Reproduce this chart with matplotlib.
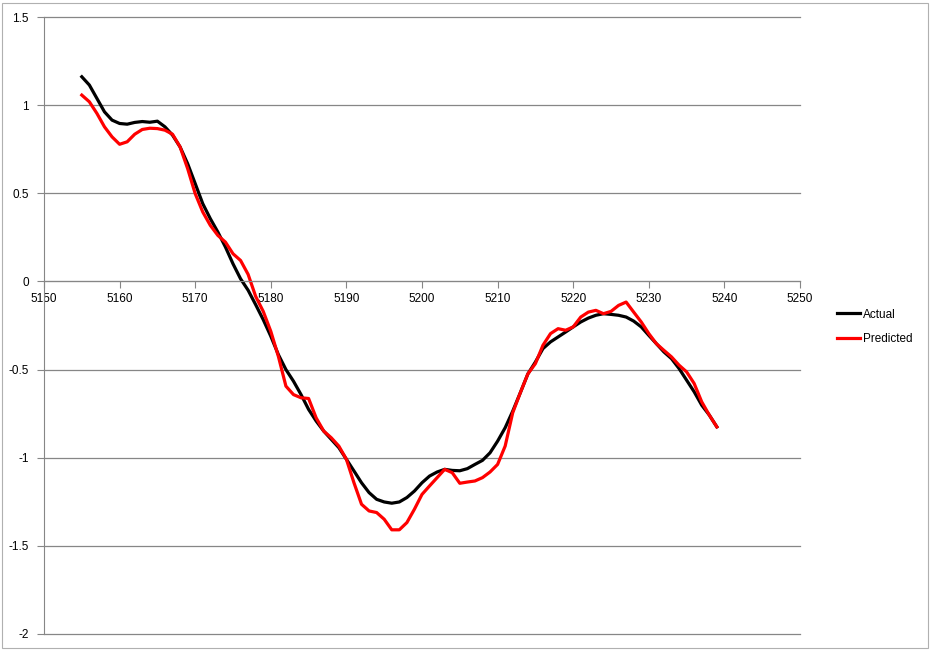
import matplotlib
matplotlib.use("Agg")
import matplotlib.pyplot as plt
from matplotlib.lines import Line2D
from matplotlib.patches import Rectangle

x_start = 5155
actual = [1.161, 1.114, 1.038, 0.962, 0.915, 0.896, 0.892, 0.902, 0.907, 0.903,
          0.909, 0.877, 0.830, 0.763, 0.668, 0.555, 0.441, 0.356, 0.280, 0.195,
          0.100, 0.015, -0.050, -0.132, -0.217, -0.311, -0.415, -0.500, -0.566, -0.642,
          -0.726, -0.792, -0.849, -0.896, -0.943, -1.009, -1.075, -1.142, -1.198, -1.236,
          -1.251, -1.258, -1.251, -1.226, -1.189, -1.142, -1.104, -1.081, -1.066, -1.072,
          -1.074, -1.062, -1.038, -1.015, -0.972, -0.906, -0.830, -0.736, -0.632, -0.525,
          -0.457, -0.381, -0.343, -0.315, -0.287, -0.258, -0.230, -0.208, -0.192, -0.183,
          -0.187, -0.192, -0.202, -0.225, -0.258, -0.306, -0.353, -0.400, -0.438, -0.494,
          -0.560, -0.626, -0.702, -0.758, -0.825]
predicted = [1.057, 1.019, 0.953, 0.877, 0.820, 0.778, 0.792, 0.835, 0.862, 0.869,
             0.867, 0.858, 0.835, 0.763, 0.640, 0.498, 0.394, 0.318, 0.261, 0.223,
             0.157, 0.119, 0.040, -0.085, -0.170, -0.283, -0.425, -0.594, -0.642, -0.660,
             -0.664, -0.774, -0.849, -0.887, -0.934, -1.009, -1.142, -1.264, -1.302, -1.311,
             -1.349, -1.409, -1.409, -1.368, -1.292, -1.208, -1.160, -1.113, -1.066, -1.085,
             -1.145, -1.138, -1.132, -1.113, -1.081, -1.038, -0.934, -0.745, -0.632, -0.525,
             -0.466, -0.362, -0.296, -0.268, -0.277, -0.258, -0.202, -0.174, -0.164, -0.183,
             -0.170, -0.136, -0.117, -0.174, -0.230, -0.296, -0.353, -0.391, -0.428, -0.475,
             -0.513, -0.579, -0.683, -0.758, -0.825]
xs = list(range(x_start, x_start + len(actual)))
x_ticks = [5150, 5160, 5170, 5180, 5190, 5200, 5210, 5220, 5230, 5240, 5250]
y_ticks = [-2, -1.5, -1, -0.5, 0, 0.5, 1, 1.5]
y_labels = ["-2", "-1.5", "-1", "-0.5", "0", "0.5", "1", "1.5"]

plt.rcParams['font.family'] = ['Liberation Sans', 'DejaVu Sans']
W, H = 931, 651
fig = plt.figure(figsize=(W / 100, H / 100), dpi=100)
ax = fig.add_axes([44 / W, (H - 634) / H, (800 - 44) / W, (634 - 17) / H])

gray = '#868686'
ax.plot(xs, actual, color='black', lw=2.3, label='Actual', solid_joinstyle='round')
ax.plot(xs, predicted, color='#FF0000', lw=2.3, label='Predicted', solid_joinstyle='round')

ax.set_xlim(5150, 5250)
ax.set_ylim(-2, 1.5)
ax.set_xticks(x_ticks)
ax.set_yticks(y_ticks)
ax.set_yticklabels(y_labels)
ax.yaxis.grid(True, color=gray, lw=0.9)
for gl in ax.get_ygridlines():
    gl.set_clip_on(False)
ax.set_axisbelow(True)
for s in ['top', 'right']:
    ax.spines[s].set_visible(False)
ax.spines['bottom'].set_position(('data', 0))
ax.spines['bottom'].set_color(gray)
ax.spines['left'].set_color(gray)
ax.tick_params(axis='x', direction='out', length=5, color=gray, labelsize=8.5, pad=3.5)
ax.tick_params(axis='y', direction='out', length=5, color=gray, labelsize=8.5, pad=6)

handles = [Line2D([0], [0], color='black', lw=2.3), Line2D([0], [0], color='#FF0000', lw=2.3)]
fig.legend(handles, ['Actual', 'Predicted'], loc='upper left',
           bbox_to_anchor=(826 / W, 1 - 298 / H), frameon=False, fontsize=8.5,
           handlelength=2.0, handletextpad=0.2, labelspacing=1.03)

fig.patches.append(Rectangle((2 / W, 3 / H), (W - 5) / W, 1 - 6 / H, transform=fig.transFigure,
                             fill=False, edgecolor='#B0B0B0', lw=0.8))
fig.savefig('out.png', dpi=100)
